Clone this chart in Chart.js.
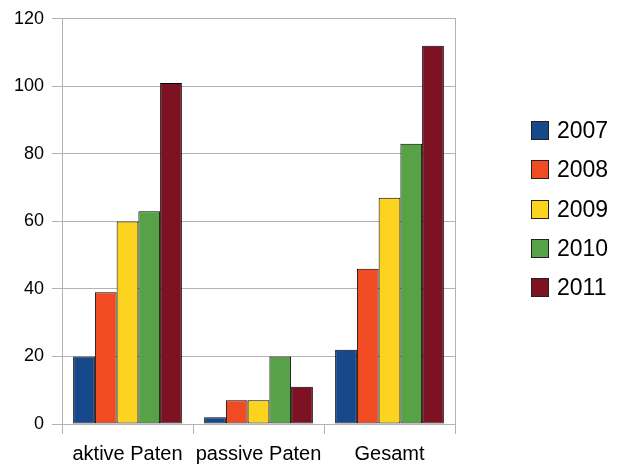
<!DOCTYPE html>
<html>
<head>
<meta charset="utf-8">
<script src="https://cdn.jsdelivr.net/npm/chart.js@4/dist/chart.umd.min.js"></script>
<style>
html, body { margin: 0; padding: 0; background: #fff; }
#wrap { position: relative; width: 617px; height: 467px; }
#legend { position: absolute; left: 531px; top: 111px; font-family: "Liberation Sans", Arial, sans-serif; font-size: 23px; color: #000; }
#legend .item { height: 39.3px; display: flex; align-items: center; }
#legend .box { width: 18px; height: 19px; border: 1px solid #222; box-sizing: border-box; margin-right: 8px; }
</style>
</head>
<body>
<div id="wrap">
<canvas id="chart" width="617" height="467"></canvas>
<div id="legend"></div>
</div>
<script>
// categories and series
const categories = ['aktive Paten', 'passive Paten', 'Gesamt'];
const years = ['2007', '2008', '2009', '2010', '2011'];
const values2007 = [20, 2, 22];
const values2008 = [39, 7, 46];
const values2009 = [60, 7, 67];
const values2010 = [63, 20, 83];
const values2011 = [101, 11, 112];
const colors = ['#17498a', '#f04b23', '#fcd420', '#57a147', '#7d1222'];

const seriesValues = [values2007, values2008, values2009, values2010, values2011];
const gridColor = '#b3b3b3';

const datasets = years.map((y, i) => ({
  label: y,
  data: seriesValues[i],
  backgroundColor: colors[i],
  borderColor: '#000',
  borderWidth: 1,
  borderSkipped: false,
  categoryPercentage: 0.83,
  barPercentage: 1.0
}));

// legend built from the same arrays
const legendEl = document.getElementById('legend');
years.forEach((y, i) => {
  const item = document.createElement('div');
  item.className = 'item';
  const box = document.createElement('div');
  box.className = 'box';
  box.style.background = colors[i];
  const txt = document.createElement('span');
  txt.textContent = y;
  item.appendChild(box);
  item.appendChild(txt);
  legendEl.appendChild(item);
});

new Chart(document.getElementById('chart').getContext('2d'), {
  type: 'bar',
  data: { labels: categories, datasets: datasets },
  options: {
    responsive: false,
    animation: false,
    layout: { padding: { top: 16, right: 162, bottom: 0, left: 0 } },
    plugins: { legend: { display: false }, tooltip: { enabled: false } },
    scales: {
      x: {
        offset: true,
        grid: { offset: true, drawOnChartArea: false, color: gridColor, tickLength: 10 },
        border: { color: gridColor },
        ticks: { color: '#000', padding: 8, autoSkip: false, maxRotation: 0, minRotation: 0, font: { family: 'Liberation Sans', size: 20 } },
        afterFit: s => { s.height = 43; }
      },
      y: {
        min: 0,
        max: 120,
        ticks: { stepSize: 20, color: '#000', padding: 8, font: { family: 'Liberation Sans', size: 18 } },
        grid: { color: gridColor, tickLength: 10 },
        border: { color: gridColor },
        afterFit: s => { s.width = 62; }
      },
      y2: {
        position: 'right',
        min: 0,
        max: 120,
        ticks: { display: false },
        grid: { display: false },
        border: { display: true, color: gridColor },
        afterFit: s => { s.width = 0; }
      }
    }
  }
});
</script>
</body>
</html>
